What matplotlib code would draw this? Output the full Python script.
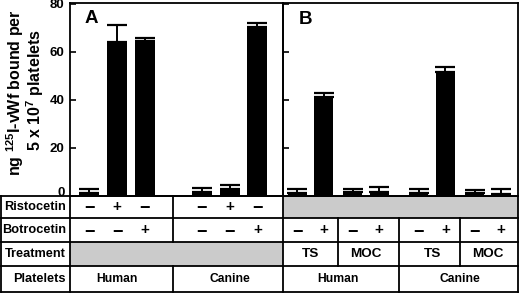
import matplotlib
matplotlib.use("Agg")
import matplotlib.pyplot as plt
from matplotlib.patches import Rectangle
from matplotlib.transforms import blended_transform_factory, ScaledTranslation
import numpy as np

plt.rcParams['font.family'] = ['Liberation Sans', 'DejaVu Sans']
plt.rcParams['font.weight'] = 'bold'
plt.rcParams['mathtext.fontset'] = 'custom'
plt.rcParams['mathtext.rm'] = 'Liberation Sans:bold'
plt.rcParams['mathtext.it'] = 'Liberation Sans:bold'
plt.rcParams['mathtext.bf'] = 'Liberation Sans:bold'
plt.rcParams['mathtext.default'] = 'rm'

# panel A: untreated platelets, ristocetin or botrocetin
a_ristocetin = ['−', '+', '−', '−', '+', '−']
a_botrocetin = ['−', '−', '+', '−', '−', '+']
a_platelets = ['Human', 'Canine']
a_vwf = [1.3, 64.3, 64.7, 1.8, 3.0, 70.5]
a_err = [1.7, 7.1, 1.3, 1.6, 1.7, 1.7]

# panel B: TS / MOC treated platelets, botrocetin -/+
b_botrocetin = ['−', '+', '−', '+', '−', '+', '−', '+']
b_treatment = ['TS', 'MOC', 'TS', 'MOC']
b_platelets = ['Human', 'Canine']
b_vwf = [1.4, 41.4, 1.8, 1.8, 1.4, 51.8, 1.4, 0.8]
b_err = [1.6, 1.6, 1.0, 2.1, 1.4, 2.1, 1.1, 2.2]

y_ticks = [0, 20, 40, 60, 80]
row_labels = ['Ristocetin', 'Botrocetin', 'Treatment', 'Platelets']

W, H = 520, 296
GRAY = '#cbcbcb'
LW = 1.3

def rect(x0, y0, x1, y1):
    # pixel box (top-left origin) -> figure fraction
    return [x0 / W, 1 - y1 / H, (x1 - x0) / W, (y1 - y0) / H]

fig = plt.figure(figsize=(W / 100, H / 100), dpi=100)

# table / frame layer in pixel coordinates
tab = fig.add_axes([0, 0, 1, 1], zorder=0)
tab.set_xlim(0, W)
tab.set_ylim(H, 0)
tab.axis('off')

axA = fig.add_axes(rect(70, 3, 283, 196), zorder=2)
axB = fig.add_axes(rect(283, 3, 518, 196), zorder=2)
axA.patch.set_alpha(0)
axB.patch.set_alpha(0)

xa = np.arange(6) + 1.05 * (np.arange(6) // 3)
k = np.arange(8)
xb = 4.6 * (k // 4) + 2.1 * ((k // 2) % 2) + 1.0 * (k % 2)

for ax, x, v, e in [(axA, xa, a_vwf, a_err), (axB, xb, b_vwf, b_err)]:
    ax.bar(x, v, width=0.72, color='black', zorder=2)
    ax.errorbar(x, v, yerr=[np.zeros(len(v)), e], fmt='none', ecolor='black',
                elinewidth=1.4, capsize=7.2, capthick=1.6, zorder=3)
    ax.set_ylim(0, 80.4)
    ax.set_yticks(y_ticks)
    ax.tick_params(axis='y', direction='in', length=4, width=1.2, pad=4,
                   labelsize=9.5)
    ax.set_xticks([])
    for s in ax.spines.values():
        s.set_linewidth(LW)

axA.set_xlim(-0.70, 6.97)
axB.set_xlim(-0.53, 8.34)
axB.set_yticklabels([])
for lab in axA.get_yticklabels():
    lab.set_fontweight('bold')
# lift the "0" label off the table line
axA.get_yticklabels()[0].set_transform(
    axA.get_yticklabels()[0].get_transform() + ScaledTranslation(0, 4 / 100, fig.dpi_scale_trans))

axA.text(91, 18.5, 'A', transform=tab.transData, fontsize=13.5, fontweight='bold',
         ha='center', va='center')
axB.text(306, 20, 'B', transform=tab.transData, fontsize=13.5, fontweight='bold',
         ha='center', va='center')

fig.text(15 / W, 1 - 93 / H, 'ng $^{125}$I-vWf bound per', rotation=90,
         ha='center', va='center', fontsize=11.5, fontweight='bold')
fig.text(35 / W, 1 - 90 / H, '5 x 10$^{7}$ platelets', rotation=90,
         ha='center', va='center', fontsize=11.5, fontweight='bold')

# ---- table ----
rows = [196, 218, 242, 266, 292]
xl, xc, xm, xr = 1, 70, 283, 518
mid = [(rows[i] + rows[i + 1]) / 2 for i in range(4)]

tab.add_patch(Rectangle((xc, rows[2]), xm - xc, rows[3] - rows[2], color=GRAY, lw=0))
tab.add_patch(Rectangle((xm, rows[0]), xr - xm, rows[1] - rows[0], color=GRAY, lw=0))

for y in rows:
    tab.plot([xl, xr], [y, y], color='black', lw=LW)
for x in [xl, xc, xm, xr]:
    tab.plot([x, x], [rows[0], rows[-1]], color='black', lw=LW)

tA = blended_transform_factory(axA.transData, tab.transData)
tB = blended_transform_factory(axB.transData, tab.transData)

# dividers, placed between bar groups
dA = (xa[2] + xa[3]) / 2
for r in [0, 1, 3]:
    tab.plot([dA, dA], [rows[r], rows[r + 1]], color='black', lw=LW, transform=tA)
for i in [1, 3, 5]:
    d = (xb[i] + xb[i + 1]) / 2
    tab.plot([d, d], [rows[1], rows[3]], color='black', lw=LW, transform=tB)
d = (xb[3] + xb[4]) / 2
tab.plot([d, d], [rows[3], rows[4]], color='black', lw=LW, transform=tB)

for lab, y in zip(row_labels, mid):
    tab.text(66, y, lab, fontsize=9.2, fontweight='bold', ha='right', va='center')

def sign(tr, x, y, s):
    if s == '+':
        tab.text(x, y, '+', transform=tr, fontsize=11, fontweight='bold',
                 ha='center', va='center')
    else:
        # minus glyph sits high in its box, nudge it down
        tab.text(x, y + 2, '−', transform=tr, fontsize=13, fontweight='bold',
                 ha='center', va='center')

for x, s in zip(xa, a_ristocetin):
    sign(tA, x, mid[0], s)
for x, s in zip(xa, a_botrocetin):
    sign(tA, x, mid[1], s)
for x, s in zip(xb, b_botrocetin):
    sign(tB, x, mid[1], s)

for j, name in enumerate(a_platelets):
    tab.text(xa[3 * j:3 * j + 3].mean(), mid[3], name, transform=tA, fontsize=8.7,
             fontweight='bold', ha='center', va='center')
for j, name in enumerate(b_treatment):
    tab.text(xb[2 * j:2 * j + 2].mean(), mid[2], name, transform=tB, fontsize=9.7,
             fontweight='bold', ha='center', va='center')
for j, name in enumerate(b_platelets):
    tab.text(xb[4 * j:4 * j + 4].mean(), mid[3], name, transform=tB, fontsize=8.7,
             fontweight='bold', ha='center', va='center')

fig.savefig('out.png', dpi=100)
